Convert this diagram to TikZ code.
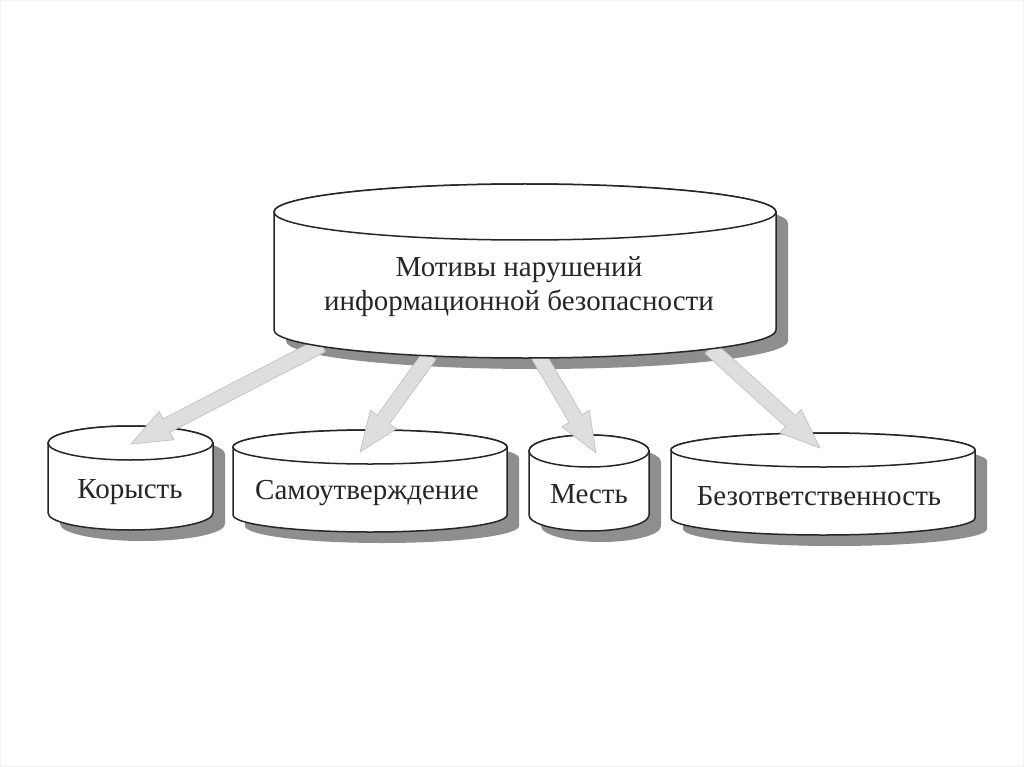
\documentclass[tikz,border=0pt]{standalone}
\usepackage{fontspec}
\setmainfont{Liberation Serif}
\usetikzlibrary{calc}
\definecolor{shd}{HTML}{8E8E8E}
\definecolor{arrfill}{HTML}{DEDEDE}
\definecolor{arrline}{HTML}{BDBDBD}
\definecolor{ink}{HTML}{262626}
\tikzset{
  cylline/.style={draw=ink,line width=1.5pt,fill=white},
  shadowfill/.style={fill=shd},
  arrstyle/.style={fill=arrfill,draw=arrline,line width=0.6pt,line join=miter},
  lbl/.style={font=\fontsize{29}{34}\selectfont,text=ink,align=center,inner sep=0pt},
}
% #1 cx, #2 rx, #3 y of top ellipse centre, #4 y of bottom ellipse centre, #5 ry
\newcommand{\drawcyl}[5]{%
  \fill[shadowfill] (#1-#2+12,#3+11) -- (#1-#2+12,#4+11)
     arc[start angle=180,end angle=360,x radius=#2pt,y radius=#5pt]
     -- (#1+#2+12,#3+11)
     arc[start angle=0,end angle=180,x radius=#2pt,y radius=#5pt] -- cycle;
  \path[cylline] (#1-#2,#3) -- (#1-#2,#4)
     arc[start angle=180,end angle=360,x radius=#2pt,y radius=#5pt]
     -- (#1+#2,#3)
     arc[start angle=0,end angle=180,x radius=#2pt,y radius=#5pt] -- cycle;
  \draw[cylline] (#1,#3) ellipse[x radius=#2pt,y radius=#5pt];
}
% fat arrow from coordinate #1 to coordinate #2
\newcommand{\fatarrow}[2]{%
  \coordinate (hb) at ($(#2)!40pt!(#1)$);
  \filldraw[arrstyle] ($(#1)!7.5pt!90:(#2)$) -- ($(hb)!7.5pt!90:(#2)$)
    -- ($(hb)!16pt!90:(#2)$) -- (#2) -- ($(hb)!16pt!-90:(#2)$)
    -- ($(hb)!7.5pt!-90:(#2)$) -- ($(#1)!7.5pt!-90:(#2)$) -- cycle;
}
\begin{document}
\begin{tikzpicture}[x=1pt,y=-1pt]
\useasboundingbox (0,0) rectangle (1024,767);
\fill[white] (0,0) rectangle (1024,767);
\draw[gray!10,line width=1pt] (0.5,0.5) rectangle (1023.5,766.5);
% small cylinders
\drawcyl{130.5}{82.5}{443}{513}{17}
\drawcyl{370}{137}{447}{515}{17}
\drawcyl{589}{60}{451}{515}{16}
\drawcyl{823}{152}{450}{518}{17}
% main cylinder shadow
\fill[shadowfill] (286,223) -- (286,341)
   arc[start angle=180,end angle=360,x radius=251pt,y radius=28pt]
   -- (788,223)
   arc[start angle=0,end angle=180,x radius=251pt,y radius=28pt] -- cycle;
% arrows
\coordinate (a1s) at (322,345);
\coordinate (a1e) at (131,444);
\coordinate (a2s) at (430,355);
\coordinate (a2e) at (360,452);
\coordinate (a3s) at (538,355);
\coordinate (a3e) at (596,453);
\coordinate (a4s) at (710,348);
\coordinate (a4e) at (820,448);
\fatarrow{a1s}{a1e}
\fatarrow{a2s}{a2e}
\fatarrow{a3s}{a3e}
\fatarrow{a4s}{a4e}
% main cylinder body
\path[cylline] (274,212) -- (274,330)
   arc[start angle=180,end angle=360,x radius=251pt,y radius=28pt]
   -- (776,212)
   arc[start angle=0,end angle=180,x radius=251pt,y radius=28pt] -- cycle;
\draw[cylline] (525,212) ellipse[x radius=251pt,y radius=28pt];
% labels
\node[lbl] (main) at (519,287) {Мотивы нарушений\\информационной безопасности};
\node[lbl] (korysty) at (130,492) {Корысть};
\node[lbl] (samo) at (367,493) {Самоутверждение};
\node[lbl] (mest) at (589,494) {Месть};
\node[lbl] (bezotv) at (819,496) {Безответственность};
\end{tikzpicture}
\end{document}
